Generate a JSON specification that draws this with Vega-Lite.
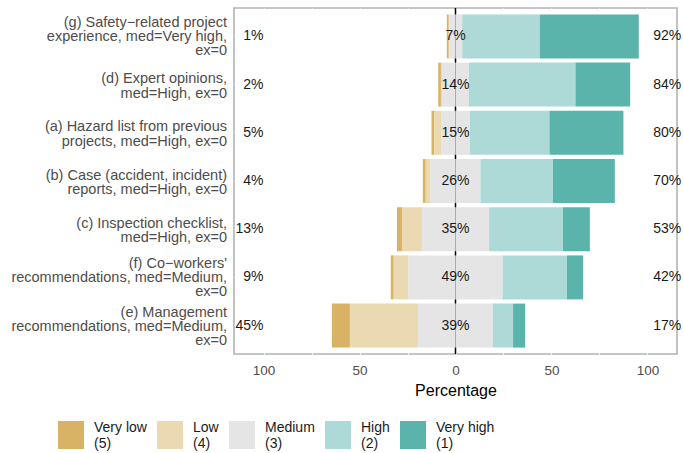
{
  "$schema": "https://vega.github.io/schema/vega-lite/v6.json",
  "width": 443,
  "height": 346,
  "autosize": {"type": "none"},
  "padding": {"left": 234, "top": 8, "right": 6, "bottom": 99},
  "background": "white",
  "config": {
    "font": "Liberation Sans",
    "view": {"stroke": "#b3b3b3", "strokeWidth": 1.6},
    "axis": {"gridColor": "white", "gridWidth": 1, "ticks": false, "domain": false}
  },
  "datasets": {
    "bars": [
      {"item": "(g) Safety−related project|experience, med=Very high,|ex=0", "level": "Very low|(5)", "value": -1, "rank": 2},
      {"item": "(g) Safety−related project|experience, med=Very high,|ex=0", "level": "Low|(4)", "value": 0, "rank": 1},
      {"item": "(g) Safety−related project|experience, med=Very high,|ex=0", "level": "Medium|(3)", "value": -3.5, "rank": 0},
      {"item": "(g) Safety−related project|experience, med=Very high,|ex=0", "level": "Medium|(3)", "value": 3.5, "rank": 0},
      {"item": "(g) Safety−related project|experience, med=Very high,|ex=0", "level": "High|(2)", "value": 40.5, "rank": 1},
      {"item": "(g) Safety−related project|experience, med=Very high,|ex=0", "level": "Very high|(1)", "value": 51.5, "rank": 2},
      {"item": "(d) Expert opinions,|med=High, ex=0", "level": "Very low|(5)", "value": -1.4, "rank": 2},
      {"item": "(d) Expert opinions,|med=High, ex=0", "level": "Low|(4)", "value": -0.6, "rank": 1},
      {"item": "(d) Expert opinions,|med=High, ex=0", "level": "Medium|(3)", "value": -7, "rank": 0},
      {"item": "(d) Expert opinions,|med=High, ex=0", "level": "Medium|(3)", "value": 7, "rank": 0},
      {"item": "(d) Expert opinions,|med=High, ex=0", "level": "High|(2)", "value": 55.5, "rank": 1},
      {"item": "(d) Expert opinions,|med=High, ex=0", "level": "Very high|(1)", "value": 28.5, "rank": 2},
      {"item": "(a) Hazard list from previous|projects, med=High, ex=0", "level": "Very low|(5)", "value": -1.5, "rank": 2},
      {"item": "(a) Hazard list from previous|projects, med=High, ex=0", "level": "Low|(4)", "value": -3.5, "rank": 1},
      {"item": "(a) Hazard list from previous|projects, med=High, ex=0", "level": "Medium|(3)", "value": -7.5, "rank": 0},
      {"item": "(a) Hazard list from previous|projects, med=High, ex=0", "level": "Medium|(3)", "value": 7.5, "rank": 0},
      {"item": "(a) Hazard list from previous|projects, med=High, ex=0", "level": "High|(2)", "value": 41.5, "rank": 1},
      {"item": "(a) Hazard list from previous|projects, med=High, ex=0", "level": "Very high|(1)", "value": 38.5, "rank": 2},
      {"item": "(b) Case (accident, incident)|reports, med=High, ex=0", "level": "Very low|(5)", "value": -1.5, "rank": 2},
      {"item": "(b) Case (accident, incident)|reports, med=High, ex=0", "level": "Low|(4)", "value": -2.5, "rank": 1},
      {"item": "(b) Case (accident, incident)|reports, med=High, ex=0", "level": "Medium|(3)", "value": -13, "rank": 0},
      {"item": "(b) Case (accident, incident)|reports, med=High, ex=0", "level": "Medium|(3)", "value": 13, "rank": 0},
      {"item": "(b) Case (accident, incident)|reports, med=High, ex=0", "level": "High|(2)", "value": 37.8, "rank": 1},
      {"item": "(b) Case (accident, incident)|reports, med=High, ex=0", "level": "Very high|(1)", "value": 32.2, "rank": 2},
      {"item": "(c) Inspection checklist,|med=High, ex=0", "level": "Very low|(5)", "value": -2.6, "rank": 2},
      {"item": "(c) Inspection checklist,|med=High, ex=0", "level": "Low|(4)", "value": -10.4, "rank": 1},
      {"item": "(c) Inspection checklist,|med=High, ex=0", "level": "Medium|(3)", "value": -17.5, "rank": 0},
      {"item": "(c) Inspection checklist,|med=High, ex=0", "level": "Medium|(3)", "value": 17.5, "rank": 0},
      {"item": "(c) Inspection checklist,|med=High, ex=0", "level": "High|(2)", "value": 38.5, "rank": 1},
      {"item": "(c) Inspection checklist,|med=High, ex=0", "level": "Very high|(1)", "value": 14, "rank": 2},
      {"item": "(f) Co−workers'|recommendations, med=Medium,|ex=0", "level": "Very low|(5)", "value": -1.5, "rank": 2},
      {"item": "(f) Co−workers'|recommendations, med=Medium,|ex=0", "level": "Low|(4)", "value": -7.7, "rank": 1},
      {"item": "(f) Co−workers'|recommendations, med=Medium,|ex=0", "level": "Medium|(3)", "value": -24.5, "rank": 0},
      {"item": "(f) Co−workers'|recommendations, med=Medium,|ex=0", "level": "Medium|(3)", "value": 24.5, "rank": 0},
      {"item": "(f) Co−workers'|recommendations, med=Medium,|ex=0", "level": "High|(2)", "value": 33.6, "rank": 1},
      {"item": "(f) Co−workers'|recommendations, med=Medium,|ex=0", "level": "Very high|(1)", "value": 8.4, "rank": 2},
      {"item": "(e) Management|recommendations, med=Medium,|ex=0", "level": "Very low|(5)", "value": -9.4, "rank": 2},
      {"item": "(e) Management|recommendations, med=Medium,|ex=0", "level": "Low|(4)", "value": -35.5, "rank": 1},
      {"item": "(e) Management|recommendations, med=Medium,|ex=0", "level": "Medium|(3)", "value": -19.5, "rank": 0},
      {"item": "(e) Management|recommendations, med=Medium,|ex=0", "level": "Medium|(3)", "value": 19.5, "rank": 0},
      {"item": "(e) Management|recommendations, med=Medium,|ex=0", "level": "High|(2)", "value": 10.5, "rank": 1},
      {"item": "(e) Management|recommendations, med=Medium,|ex=0", "level": "Very high|(1)", "value": 6.3, "rank": 2}
    ],
    "labels": [
      {"item": "(g) Safety−related project|experience, med=Very high,|ex=0", "low": "1%", "mid": "7%", "high": "92%"},
      {"item": "(d) Expert opinions,|med=High, ex=0", "low": "2%", "mid": "14%", "high": "84%"},
      {"item": "(a) Hazard list from previous|projects, med=High, ex=0", "low": "5%", "mid": "15%", "high": "80%"},
      {"item": "(b) Case (accident, incident)|reports, med=High, ex=0", "low": "4%", "mid": "26%", "high": "70%"},
      {"item": "(c) Inspection checklist,|med=High, ex=0", "low": "13%", "mid": "35%", "high": "53%"},
      {"item": "(f) Co−workers'|recommendations, med=Medium,|ex=0", "low": "9%", "mid": "49%", "high": "42%"},
      {"item": "(e) Management|recommendations, med=Medium,|ex=0", "low": "45%", "mid": "39%", "high": "17%"}
    ]
  },
  "layer": [
    {
      "data": {"values": [{}]},
      "mark": {"type": "rule", "color": "black", "strokeWidth": 1.5},
      "encoding": {"x": {"datum": 0, "type": "quantitative"}}
    },
    {
      "data": {"name": "bars"},
      "mark": {"type": "bar"},
      "encoding": {
        "y": {
          "field": "item", "type": "nominal",
          "sort": ["(g) Safety−related project|experience, med=Very high,|ex=0", "(d) Expert opinions,|med=High, ex=0", "(a) Hazard list from previous|projects, med=High, ex=0", "(b) Case (accident, incident)|reports, med=High, ex=0", "(c) Inspection checklist,|med=High, ex=0", "(f) Co−workers'|recommendations, med=Medium,|ex=0", "(e) Management|recommendations, med=Medium,|ex=0"],
          "scale": {"paddingInner": 0.087, "paddingOuter": 0.133},
          "axis": {"title": null, "labels": false, "grid": true}
        },
        "x": {
          "field": "value", "type": "quantitative", "stack": "zero",
          "scale": {"domain": [-115.4, 115.4], "nice": false, "zero": false},
          "axis": {"title": "Percentage", "values": [-100, -75, -50, -25, 0, 25, 50, 75, 100], "labelExpr": "datum.value % 50 == 0 ? abs(datum.value) : ''", "labelFontSize": 13.5, "labelColor": "#4d4d4d", "labelPadding": 9, "titleFontSize": 16, "titleFontWeight": "normal", "titleColor": "black", "titlePadding": 6, "grid": true, "labelOverlap": false}
        },
        "order": {"field": "rank", "type": "quantitative"},
        "color": {
          "field": "level", "type": "nominal",
          "scale": {"domain": ["Very low|(5)", "Low|(4)", "Medium|(3)", "High|(2)", "Very high|(1)"], "range": ["#D8B365", "#EBD9B1", "#E5E5E5", "#ADD9D6", "#5AB4AC"]},
          "legend": {"title": null, "orient": "none", "legendX": -177, "legendY": 413, "direction": "horizontal", "columns": 5, "padding": 0, "symbolType": "M-0.929,-1L0.929,-1L0.929,1L-0.929,1Z", "symbolSize": 784, "symbolStrokeWidth": 0, "symbolOpacity": 1, "labelExpr": "split(datum.label, '|')", "labelFontSize": 14, "labelColor": "#1a1a1a", "labelLineHeight": 16.5, "labelLimit": 0, "labelOffset": 9, "columnPadding": 9,
            "encode": {"labels": {"update": {"dy": {"value": -7}}}}}
        }
      }
    },
    {
      "data": {"name": "labels"},
      "transform": [{"filter": "length(split(datum.item, '|')) == 3"}],
      "mark": {"type": "text", "align": "right", "baseline": "middle", "lineBreak": "|", "lineHeight": 14, "fontSize": 14.5, "color": "#4d4d4d", "dx": -7, "dy": -13},
      "encoding": {
        "y": {"field": "item", "type": "nominal", "sort": ["(g) Safety−related project|experience, med=Very high,|ex=0", "(d) Expert opinions,|med=High, ex=0", "(a) Hazard list from previous|projects, med=High, ex=0", "(b) Case (accident, incident)|reports, med=High, ex=0", "(c) Inspection checklist,|med=High, ex=0", "(f) Co−workers'|recommendations, med=Medium,|ex=0", "(e) Management|recommendations, med=Medium,|ex=0"]},
        "x": {"datum": -115.4, "type": "quantitative"},
        "text": {"field": "item"}
      }
    },
    {
      "data": {"name": "labels"},
      "transform": [{"filter": "length(split(datum.item, '|')) == 2"}],
      "mark": {"type": "text", "align": "right", "baseline": "middle", "lineBreak": "|", "lineHeight": 14.5, "fontSize": 14.5, "color": "#4d4d4d", "dx": -7, "dy": -5.5},
      "encoding": {
        "y": {"field": "item", "type": "nominal", "sort": ["(g) Safety−related project|experience, med=Very high,|ex=0", "(d) Expert opinions,|med=High, ex=0", "(a) Hazard list from previous|projects, med=High, ex=0", "(b) Case (accident, incident)|reports, med=High, ex=0", "(c) Inspection checklist,|med=High, ex=0", "(f) Co−workers'|recommendations, med=Medium,|ex=0", "(e) Management|recommendations, med=Medium,|ex=0"]},
        "x": {"datum": -115.4, "type": "quantitative"},
        "text": {"field": "item"}
      }
    },
    {
      "data": {"name": "labels"},
      "mark": {"type": "text", "align": "right", "fontSize": 14, "color": "#1a1a1a"},
      "encoding": {
        "y": {"field": "item", "type": "nominal", "sort": ["(g) Safety−related project|experience, med=Very high,|ex=0", "(d) Expert opinions,|med=High, ex=0", "(a) Hazard list from previous|projects, med=High, ex=0", "(b) Case (accident, incident)|reports, med=High, ex=0", "(c) Inspection checklist,|med=High, ex=0", "(f) Co−workers'|recommendations, med=Medium,|ex=0", "(e) Management|recommendations, med=Medium,|ex=0"]},
        "x": {"datum": -100, "type": "quantitative"},
        "text": {"field": "low"}
      }
    },
    {
      "data": {"name": "labels"},
      "mark": {"type": "text", "align": "center", "fontSize": 14, "color": "#1a1a1a"},
      "encoding": {
        "y": {"field": "item", "type": "nominal", "sort": ["(g) Safety−related project|experience, med=Very high,|ex=0", "(d) Expert opinions,|med=High, ex=0", "(a) Hazard list from previous|projects, med=High, ex=0", "(b) Case (accident, incident)|reports, med=High, ex=0", "(c) Inspection checklist,|med=High, ex=0", "(f) Co−workers'|recommendations, med=Medium,|ex=0", "(e) Management|recommendations, med=Medium,|ex=0"]},
        "x": {"datum": 0, "type": "quantitative"},
        "text": {"field": "mid"}
      }
    },
    {
      "data": {"name": "labels"},
      "mark": {"type": "text", "align": "left", "fontSize": 14, "color": "#1a1a1a"},
      "encoding": {
        "y": {"field": "item", "type": "nominal", "sort": ["(g) Safety−related project|experience, med=Very high,|ex=0", "(d) Expert opinions,|med=High, ex=0", "(a) Hazard list from previous|projects, med=High, ex=0", "(b) Case (accident, incident)|reports, med=High, ex=0", "(c) Inspection checklist,|med=High, ex=0", "(f) Co−workers'|recommendations, med=Medium,|ex=0", "(e) Management|recommendations, med=Medium,|ex=0"]},
        "x": {"datum": 103, "type": "quantitative"},
        "text": {"field": "high"}
      }
    }
  ]
}
